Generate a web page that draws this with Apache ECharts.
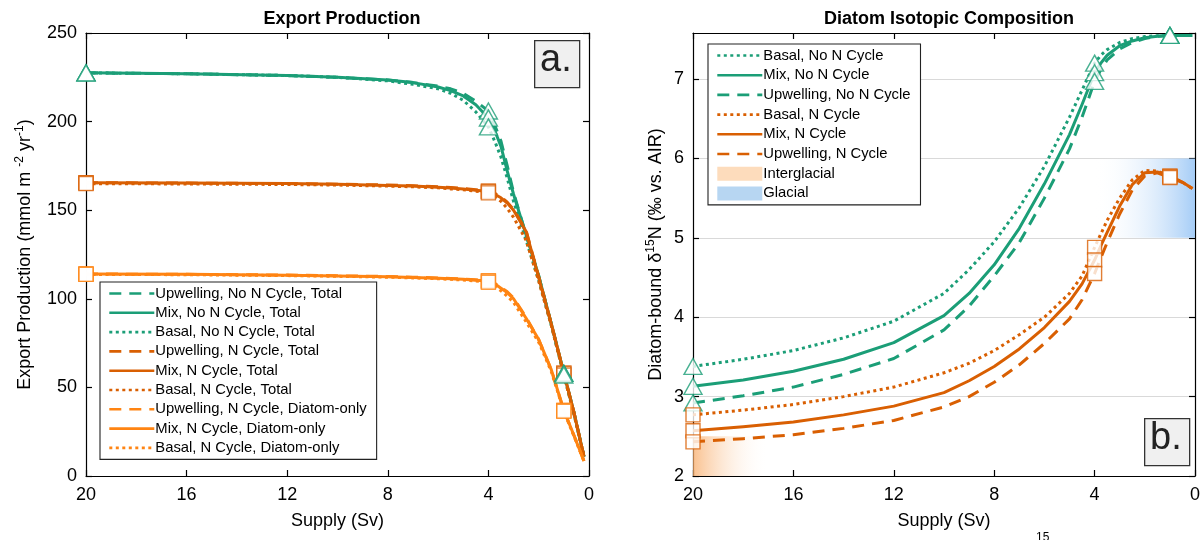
<!DOCTYPE html>
<html>
<head>
<meta charset="utf-8">
<script src="https://cdn.jsdelivr.net/npm/echarts@6/dist/echarts.min.js"></script>
<style>
  html, body { margin: 0; background: #fff; }
  #main { width: 1204px; height: 540px; }
</style>
</head>
<body>
<div id="main"></div>
<script>
// supply (Sv) sample points
var supplyA = [20, 16, 12, 10, 8, 7, 6, 5.5, 5, 4.5, 4, 3.75, 3.5, 3.25, 3, 2.5, 2, 1.5, 1, 0.6, 0.2];
var supplyB = [20, 18, 16, 14, 12, 10, 9, 8, 7, 6, 5, 4.5, 4, 3.75, 3.5, 3, 2.5, 2, 1.5, 1, 0.5, 0.1];
var markerSupply = [20, 4, 1];

// panel a: export production (mmol m-2 yr-1)
var upNoNTotal  = [227.5, 227, 226, 225, 223.5, 222, 220, 218.5, 216, 211.5, 206, 198, 189, 175, 160, 136, 113, 86, 58, 36, 11];
var mixNoNTotal = [227.5, 227, 226, 225, 223.5, 222, 219.5, 217.5, 214.5, 209.5, 202, 195, 186, 172, 159, 136, 113, 86, 58, 36, 11];
var basNoNTotal = [227.5, 227, 226, 225, 223, 221, 218.5, 216, 212, 205.5, 197, 189, 180, 168, 155, 133, 110.5, 85, 57, 35, 11];
var upNTotal    = [165.5, 165.3, 165, 164.7, 164.2, 163.8, 163.2, 162.8, 162.3, 161.6, 160.8, 159.5, 157.5, 154.5, 150.5, 138.5, 112.5, 86, 58, 36, 11];
var mixNTotal   = [165.5, 165.3, 165, 164.6, 164, 163.6, 163, 162.5, 162, 161.3, 160.5, 159, 157, 154, 150, 138, 112, 86, 58, 36, 11];
var basNTotal   = [165, 164.8, 164.5, 164.2, 163.6, 163.2, 162.6, 162, 161.5, 160.7, 159.8, 157.5, 155, 151, 146, 133, 110, 85, 57, 35, 11];
var upNDiatom   = [114, 113.8, 113.4, 113, 112.6, 112.2, 111.8, 111.5, 111.2, 110.7, 110.2, 108.8, 106.5, 104, 100.5, 89.5, 77, 60, 37, 23, 8.5];
var mixNDiatom  = [114, 113.8, 113.3, 112.9, 112.4, 112, 111.6, 111.3, 111, 110.5, 110, 108.5, 106, 103.5, 100, 89, 77, 60, 37, 23, 8.5];
var basNDiatom  = [113.8, 113.6, 113.1, 112.7, 112.2, 111.8, 111.3, 111, 110.6, 110, 109.3, 107.3, 104.5, 101.5, 98, 87, 75.5, 59, 36.5, 22.5, 8.5];

// panel b: diatom-bound d15N (permil vs AIR)
var basNoN = [3.38, 3.47, 3.58, 3.74, 3.95, 4.3, 4.6, 4.95, 5.38, 5.9, 6.52, 6.86, 7.2, 7.3, 7.37, 7.46, 7.51, 7.535, 7.545, 7.55, 7.55, 7.55];
var mixNoN = [3.13, 3.21, 3.32, 3.47, 3.68, 4.02, 4.3, 4.66, 5.12, 5.68, 6.3, 6.68, 7.08, 7.2, 7.3, 7.42, 7.48, 7.52, 7.54, 7.55, 7.55, 7.55];
var upNoN  = [2.92, 3.01, 3.12, 3.28, 3.48, 3.84, 4.14, 4.52, 4.94, 5.5, 6.12, 6.52, 6.97, 7.12, 7.24, 7.38, 7.46, 7.51, 7.54, 7.55, 7.55, 7.55];
var basN   = [2.77, 2.83, 2.9, 3.0, 3.12, 3.3, 3.42, 3.58, 3.78, 4.0, 4.3, 4.52, 4.88, 5.05, 5.22, 5.5, 5.73, 5.85, 5.84, 5.78, 5.7, 5.62];
var mixN   = [2.57, 2.62, 2.68, 2.77, 2.88, 3.05, 3.2, 3.38, 3.6, 3.87, 4.2, 4.42, 4.72, 4.9, 5.07, 5.4, 5.67, 5.82, 5.83, 5.77, 5.7, 5.62];
var upN    = [2.43, 2.47, 2.52, 2.6, 2.7, 2.87, 3.0, 3.18, 3.4, 3.67, 3.98, 4.22, 4.55, 4.75, 4.94, 5.3, 5.6, 5.78, 5.82, 5.76, 5.7, 5.62];

// shaded ranges [supply from, supply to, d15N low, d15N high]
var interglacialBox = [20, 17, 2, 2.5];
var glacialBox = [4, 0, 5, 6];

var GREEN = '#1b9e77', DORANGE = '#d95f02', LORANGE = '#ff8412';
var FONT = 'Liberation Sans';
var DASH = [12, 8], DOT = [3, 3.5];

function pairs(xs, ys) {
  return xs.map(function (x, i) { return [x, ys[i]]; });
}
function pick(xs, ys) {
  return markerSupply.map(function (s) { return [s, ys[xs.indexOf(s)]]; });
}

var chart = echarts.init(document.getElementById('main'));

function xAx(grid, top) {
  return {
    type: 'value', gridIndex: grid, inverse: true, min: 0, max: 20, interval: 4,
    position: top ? 'top' : 'bottom',
    axisLine: { show: true, onZero: false, lineStyle: { color: '#000', width: 1.2 } },
    axisTick: { show: true, inside: true, length: 6, lineStyle: { color: '#000', width: 1.2 } },
    axisLabel: { show: !top, color: '#000', fontSize: 18, fontFamily: FONT, margin: 10 },
    splitLine: { show: false },
    name: top ? '' : 'Supply (Sv)', nameLocation: 'middle', nameGap: 36,
    nameTextStyle: { color: '#000', fontSize: 18, fontFamily: FONT }
  };
}
function yAx(grid, right, min, max, interval, split) {
  return {
    type: 'value', gridIndex: grid, min: min, max: max, interval: interval,
    position: right ? 'right' : 'left',
    axisLine: { show: true, onZero: false, lineStyle: { color: '#000', width: 1.2 } },
    axisTick: { show: true, inside: true, length: 6, lineStyle: { color: '#000', width: 1.2 } },
    axisLabel: { show: !right, color: '#000', fontSize: 18, fontFamily: FONT, margin: 9, showMaxLabel: max % interval === 0 },
    splitLine: { show: split && !right, lineStyle: { color: '#d9d9d9', width: 1.2 } }
  };
}

var richName = {
  t: { fontSize: 18, fontFamily: FONT, color: '#000', lineHeight: 22 },
  s: { fontSize: 12, fontFamily: FONT, color: '#000', lineHeight: 12, verticalAlign: 'top' }
};

var yA = yAx(0, false, 0, 250, 50, false);
yA.name = '{t|Export Production (mmol m }{s|-2}{t| yr}{s|-1}{t|)}';
yA.nameLocation = 'middle';
yA.nameGap = 50;
yA.nameTextStyle = { rich: richName };

var yB = yAx(1, false, 2, 7.58, 1, true);
yB.name = '{t|Diatom-bound δ}{s|15}{t|N (‰ vs. AIR)}';
yB.nameLocation = 'middle';
yB.nameGap = 26;
yB.nameTextStyle = { rich: richName };

function line(name, xs, ys, color, dash, gi) {
  return {
    name: name, type: 'line', xAxisIndex: gi, yAxisIndex: gi,
    data: pairs(xs, ys), symbol: 'none', showSymbol: false, smooth: false, z: 3,
    lineStyle: { color: color, width: 3, type: dash, cap: 'butt', join: 'round' },
    itemStyle: { color: color }
  };
}
function marks(xs, ys, color, shape, gi) {
  return {
    type: 'scatter', xAxisIndex: gi, yAxisIndex: gi, data: pick(xs, ys),
    symbol: shape, symbolSize: shape === 'triangle' ? [18, 16] : [14, 14],
    clip: false, z: 6, silent: true,
    itemStyle: { color: '#fff', borderColor: color, borderWidth: 1.4 }
  };
}

var series = [
  {
    name: 'Interglacial', type: 'line', xAxisIndex: 1, yAxisIndex: 1, z: 1,
    data: [], symbol: 'none', itemStyle: { color: '#fddcbc' },
    markArea: { silent: true, data: [[
      { coord: [interglacialBox[0], interglacialBox[2]],
        itemStyle: { color: new echarts.graphic.LinearGradient(0, 0, 1, 0, [
          { offset: 0, color: 'rgba(248,172,105,0.75)' },
          { offset: 1, color: 'rgba(255,255,255,0)' }]) } },
      { coord: [interglacialBox[1], interglacialBox[3]] }]] }
  },
  {
    name: 'Glacial', type: 'line', xAxisIndex: 1, yAxisIndex: 1, z: 1,
    data: [], symbol: 'none', itemStyle: { color: '#b7d6f2' },
    markArea: { silent: true, data: [[
      { coord: [glacialBox[0], glacialBox[2]],
        itemStyle: { color: new echarts.graphic.LinearGradient(0, 0, 1, 0, [
          { offset: 0, color: 'rgba(255,255,255,0)' },
          { offset: 1, color: 'rgba(150,196,245,0.85)' }]) } },
      { coord: [glacialBox[1], glacialBox[3]] }]] }
  },
  line('Upwelling, No N Cycle, Total', supplyA, upNoNTotal, GREEN, DASH, 0),
  line('Mix, No N Cycle, Total', supplyA, mixNoNTotal, GREEN, 'solid', 0),
  line('Basal, No N Cycle, Total', supplyA, basNoNTotal, GREEN, DOT, 0),
  line('Upwelling, N Cycle, Total', supplyA, upNTotal, DORANGE, DASH, 0),
  line('Mix, N Cycle, Total', supplyA, mixNTotal, DORANGE, 'solid', 0),
  line('Basal, N Cycle, Total', supplyA, basNTotal, DORANGE, DOT, 0),
  line('Upwelling, N Cycle, Diatom-only', supplyA, upNDiatom, LORANGE, DASH, 0),
  line('Mix, N Cycle, Diatom-only', supplyA, mixNDiatom, LORANGE, 'solid', 0),
  line('Basal, N Cycle, Diatom-only', supplyA, basNDiatom, LORANGE, DOT, 0),
  marks(supplyA, upNTotal, DORANGE, 'rect', 0),
  marks(supplyA, mixNTotal, DORANGE, 'rect', 0),
  marks(supplyA, basNTotal, DORANGE, 'rect', 0),
  marks(supplyA, upNDiatom, LORANGE, 'rect', 0),
  marks(supplyA, mixNDiatom, LORANGE, 'rect', 0),
  marks(supplyA, basNDiatom, LORANGE, 'rect', 0),
  marks(supplyA, upNoNTotal, GREEN, 'triangle', 0),
  marks(supplyA, mixNoNTotal, GREEN, 'triangle', 0),
  marks(supplyA, basNoNTotal, GREEN, 'triangle', 0),

  line('Basal, No N Cycle', supplyB, basNoN, GREEN, DOT, 1),
  line('Mix, No N Cycle', supplyB, mixNoN, GREEN, 'solid', 1),
  line('Upwelling, No N Cycle', supplyB, upNoN, GREEN, DASH, 1),
  line('Basal, N Cycle', supplyB, basN, DORANGE, DOT, 1),
  line('Mix, N Cycle', supplyB, mixN, DORANGE, 'solid', 1),
  line('Upwelling, N Cycle', supplyB, upN, DORANGE, DASH, 1),
  marks(supplyB, basNoN, GREEN, 'triangle', 1),
  marks(supplyB, mixNoN, GREEN, 'triangle', 1),
  marks(supplyB, upNoN, GREEN, 'triangle', 1),
  marks(supplyB, basN, DORANGE, 'rect', 1),
  marks(supplyB, mixN, DORANGE, 'rect', 1),
  marks(supplyB, upN, DORANGE, 'rect', 1)
];

var legendBase = {
  orient: 'vertical', backgroundColor: '#fff', borderColor: '#222', borderWidth: 1.1,
  borderRadius: 0, itemWidth: 45, itemHeight: 14,
  padding: [4, 10, 4, 8], selectedMode: false,
  lineStyle: { width: 2.6 },
  itemStyle: { opacity: 0 },
  textStyle: { color: '#000', fontSize: 14.8, fontFamily: FONT, padding: [0, 0, 0, -4] }
};

var option = {
  animation: false,
  backgroundColor: '#fff',
  title: [
    { text: 'Export Production', left: 337, top: 5, textAlign: 'center',
      textStyle: { fontSize: 18, fontWeight: 'bold', fontFamily: FONT, color: '#000' } },
    { text: 'Diatom Isotopic Composition', left: 944, top: 5, textAlign: 'center',
      textStyle: { fontSize: 18, fontWeight: 'bold', fontFamily: FONT, color: '#000' } }
  ],
  grid: [
    { left: 86, top: 33, width: 503, height: 443, show: false },
    { left: 693, top: 33, width: 502, height: 443, show: false }
  ],
  xAxis: [xAx(0, false), xAx(1, false), xAx(0, true), xAx(1, true)],
  yAxis: [yA, yB, yAx(0, true, 0, 250, 50, false), yAx(1, true, 2, 7.58, 1, true)],
  legend: [
    Object.assign({}, legendBase, { left: 100, top: 282, itemGap: 4.3, data: [
      'Upwelling, No N Cycle, Total', 'Mix, No N Cycle, Total', 'Basal, No N Cycle, Total',
      'Upwelling, N Cycle, Total', 'Mix, N Cycle, Total', 'Basal, N Cycle, Total',
      'Upwelling, N Cycle, Diatom-only', 'Mix, N Cycle, Diatom-only', 'Basal, N Cycle, Diatom-only'] }),
    Object.assign({}, legendBase, { left: 708, top: 44, itemGap: 4.7, data: [
      'Basal, No N Cycle', 'Mix, No N Cycle', 'Upwelling, No N Cycle',
      'Basal, N Cycle', 'Mix, N Cycle', 'Upwelling, N Cycle',
      { name: 'Interglacial', icon: 'rect', itemStyle: { color: '#fddcbc', opacity: 1 } },
      { name: 'Glacial', icon: 'rect', itemStyle: { color: '#b7d6f2', opacity: 1 } }] })
  ],
  graphic: [
    { type: 'rect', left: 534, top: 40, z: 10, shape: { width: 45, height: 47 },
      style: { fill: '#f0f0f0', stroke: '#333', lineWidth: 1.3 } },
    { type: 'text', left: 540, top: 42, z: 11,
      style: { text: 'a.', fontSize: 38, fontFamily: FONT, fill: '#222' } },
    { type: 'rect', left: 1144, top: 418, z: 10, shape: { width: 45, height: 47 },
      style: { fill: '#f0f0f0', stroke: '#333', lineWidth: 1.3 } },
    { type: 'text', left: 1150, top: 420, z: 11,
      style: { text: 'b.', fontSize: 38, fontFamily: FONT, fill: '#222' } },
    { type: 'text', left: 1036, top: 532, z: 11,
      style: { text: '15', fontSize: 12, fontFamily: FONT, fill: '#000' } }
  ],
  series: series
};

chart.setOption(option);
</script>
</body>
</html>
